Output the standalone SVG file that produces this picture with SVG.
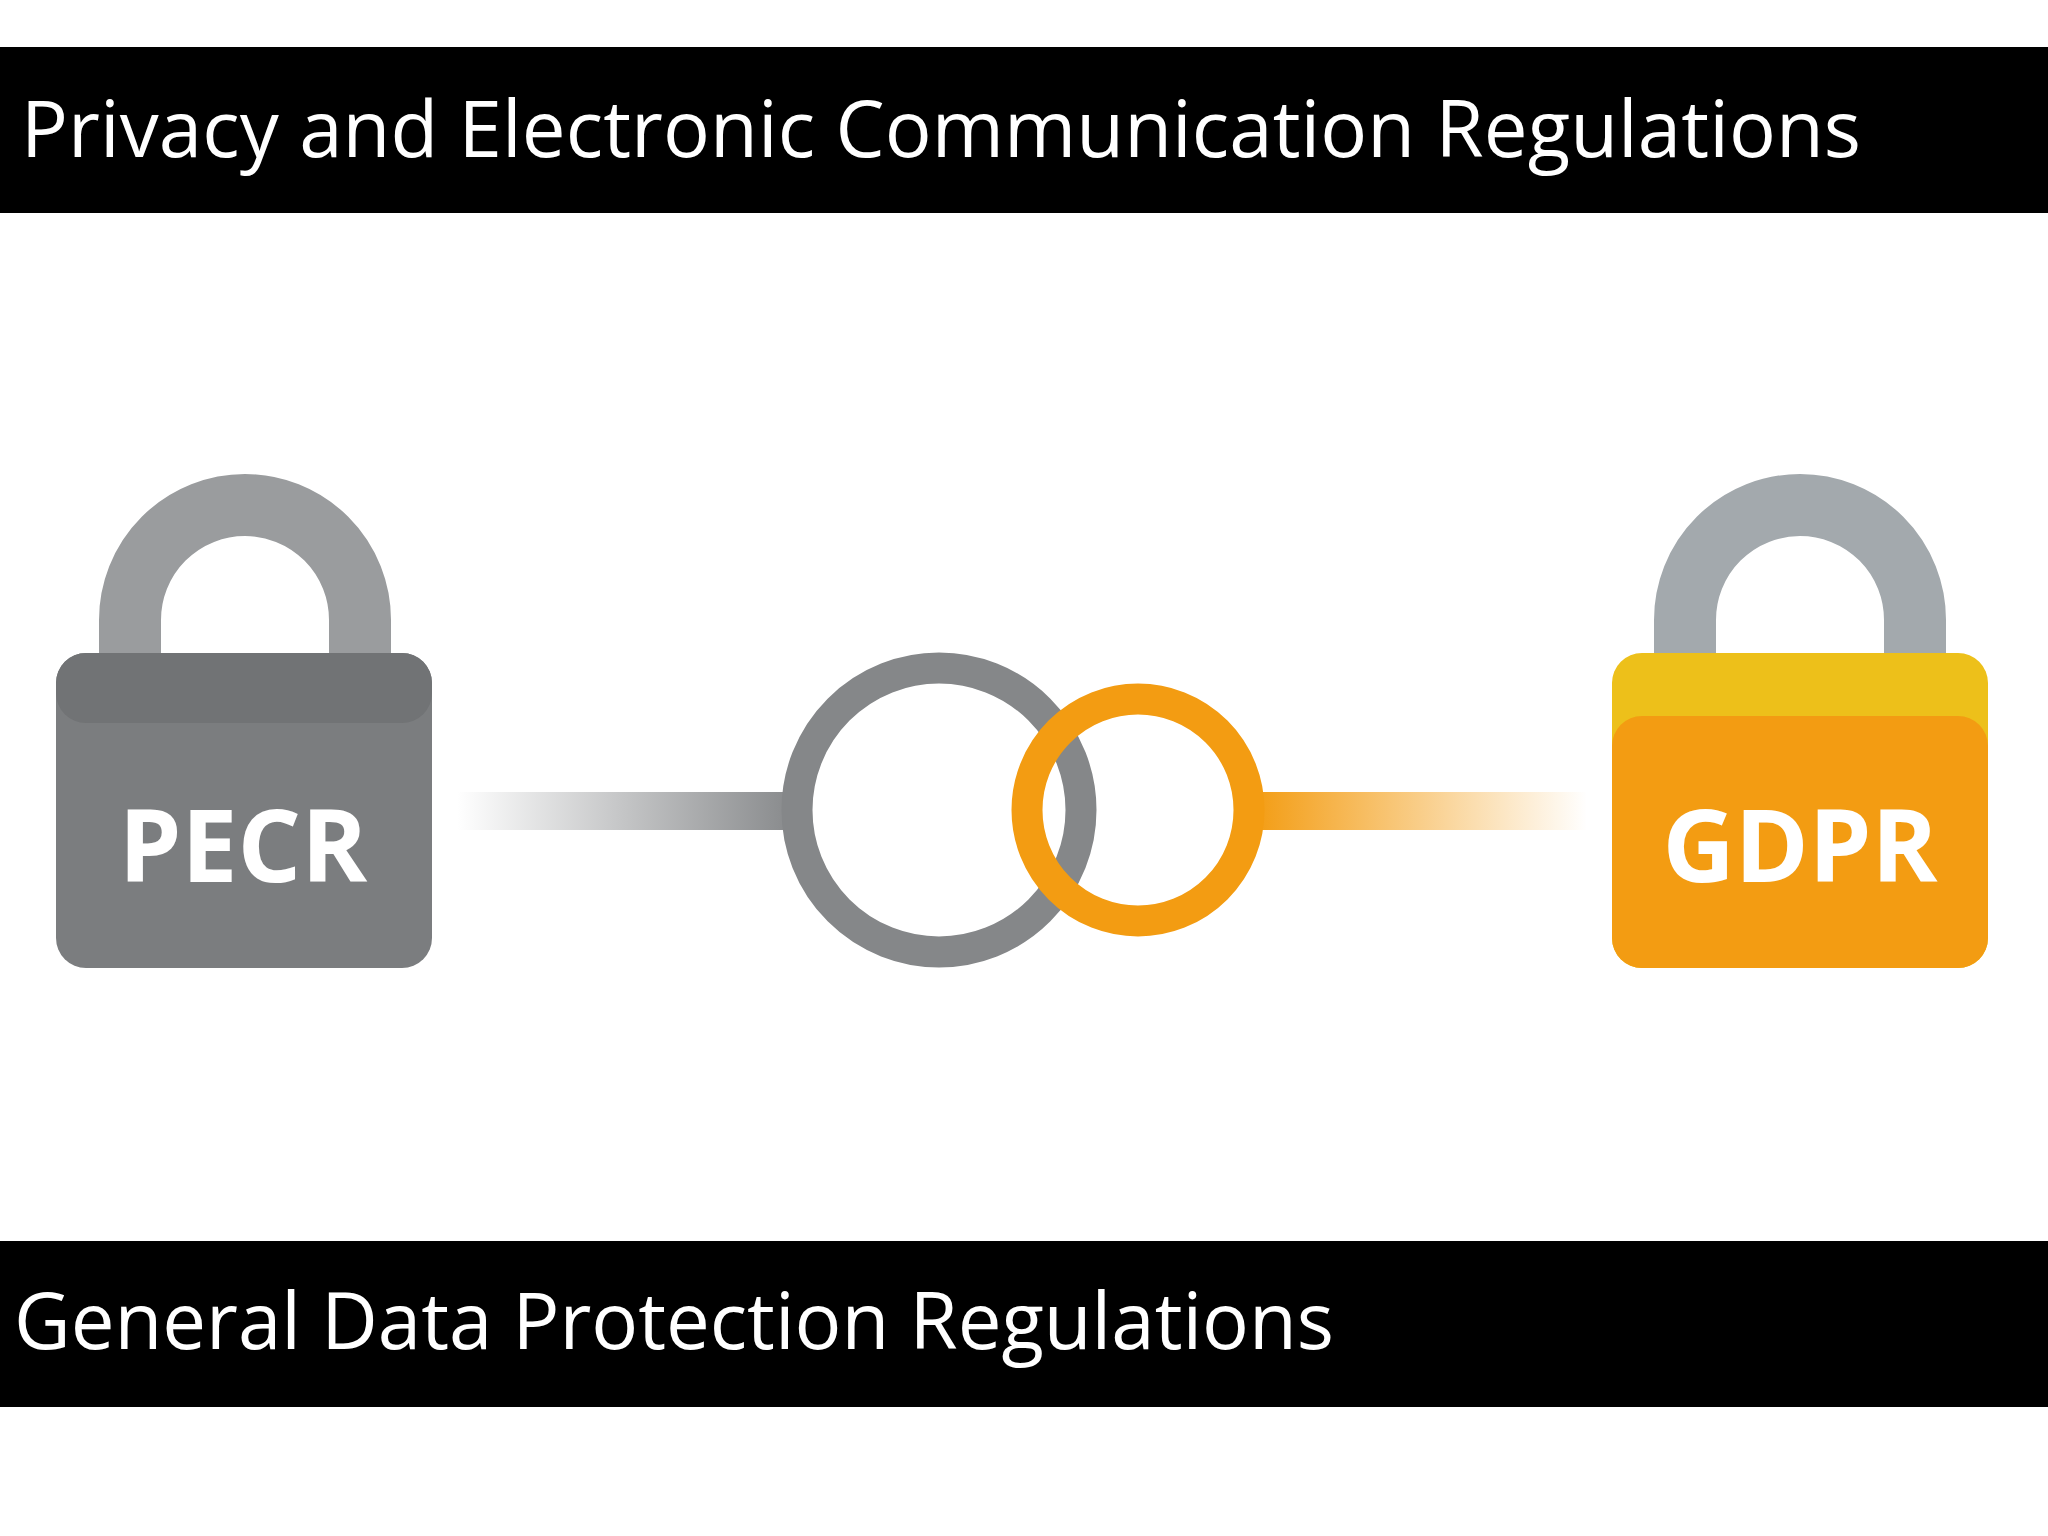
<svg xmlns="http://www.w3.org/2000/svg" width="2048" height="1536" viewBox="0 0 2048 1536">
<defs>
<style>
.bar{fill:#000}
.title{font-family:"Open Sans","Liberation Sans",sans-serif;font-size:78px;fill:#fff}
.lbl{font-family:"Open Sans","Liberation Sans",sans-serif;font-weight:bold;font-size:100px;fill:#fff;text-anchor:middle}
</style>
<linearGradient id="gl" x1="0" x2="1"><stop offset="0" stop-color="#8a8c8e" stop-opacity="0"/><stop offset="1" stop-color="#8a8c8e"/></linearGradient>
<linearGradient id="ol" x1="0" x2="1"><stop offset="0" stop-color="#f39c12"/><stop offset="1" stop-color="#f39c12" stop-opacity="0"/></linearGradient>
</defs>
<rect width="2048" height="1536" fill="#fff"/>
<rect class="bar" x="0" y="47" width="2048" height="166"/>
<text class="title" x="21" y="157" textLength="1840">Privacy and Electronic Communication Regulations</text>
<rect class="bar" x="0" y="1241" width="2048" height="166"/>
<text class="title" x="14" y="1349" textLength="1320">General Data Protection Regulations</text>
<g id="connectors">
<rect x="457" y="792" width="330" height="38" fill="url(#gl)"/>
<rect x="1252" y="792" width="335" height="38" fill="url(#ol)"/>
</g>
<g id="rings">
<circle cx="939" cy="810" r="142" fill="none" stroke="#858789" stroke-width="31"/>
<circle cx="1138" cy="810" r="111" fill="none" stroke="#f39c12" stroke-width="31"/>
</g>
<g id="pecr">
<path d="M130 680 V620 A115 115 0 0 1 360 620 V680" fill="none" stroke="#9a9c9e" stroke-width="62" stroke-linecap="round"/>
<rect x="56" y="653" width="376" height="315" rx="30" fill="#7b7d7f"/>
<rect x="56" y="653" width="376" height="70" rx="30" fill="#717375"/>
<text class="lbl" x="243" y="882">PECR</text>
</g>
<g id="gdpr">
<path d="M1685 680 V620 A115 115 0 0 1 1915 620 V680" fill="none" stroke="#a3a9ad" stroke-width="62" stroke-linecap="round"/>
<rect x="1612" y="653" width="376" height="315" rx="30" fill="#edc01a"/>
<rect x="1612" y="716" width="376" height="252" rx="30" fill="#f39c12"/>
<text class="lbl" x="1800" y="882">GDPR</text>
</g>
</svg>
